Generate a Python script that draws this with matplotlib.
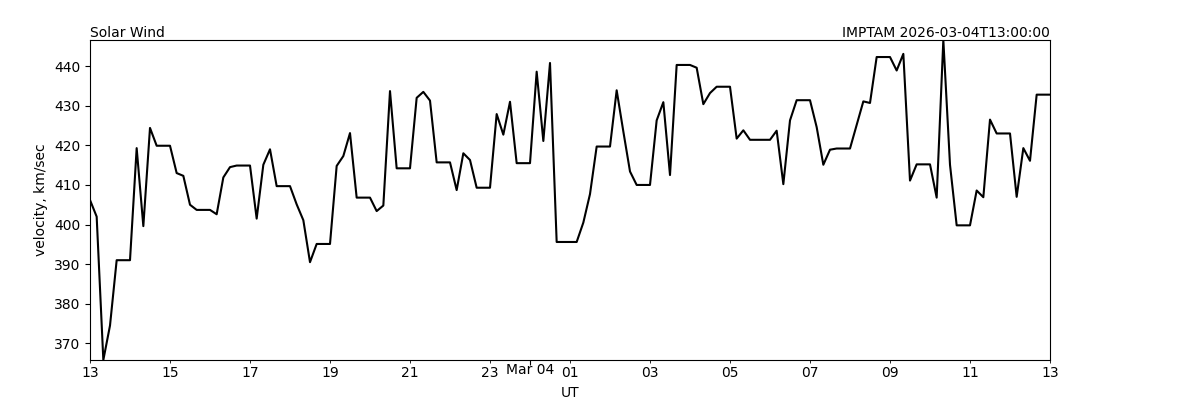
import datetime as dt

import matplotlib
matplotlib.use("Agg")
import matplotlib.dates as mdates
import matplotlib.pyplot as plt
import numpy as np

# Solar wind velocity, 10-minute samples from 2026-03-03 13:00 UT
start = dt.datetime(2026, 3, 3, 13, 0)
step_min = 10
velocity = [
    406.2, 402.0, 365.8, 374.5, 391.0, 391.0, 391.0, 419.3, 399.6, 424.4,
    419.9, 419.9, 419.9, 413.0, 412.3, 405.0, 403.7, 403.7, 403.7, 402.6,
    411.9, 414.5, 414.9, 414.9, 414.9, 401.5, 415.1, 419.0, 409.7, 409.7,
    409.7, 405.1, 401.1, 390.5, 395.1, 395.1, 395.1, 414.8, 417.3, 423.1,
    406.8, 406.8, 406.8, 403.4, 404.8, 433.7, 414.2, 414.2, 414.2, 432.0,
    433.5, 431.3, 415.7, 415.7, 415.7, 408.7, 418.0, 416.3, 409.3, 409.3,
    409.3, 427.9, 422.7, 431.0, 415.5, 415.5, 415.5, 438.6, 421.1, 440.8,
    395.6, 395.6, 395.6, 395.6, 400.5, 407.7, 419.7, 419.7, 419.7, 433.9,
    423.5, 413.4, 410.0, 410.0, 410.0, 426.3, 430.9, 412.5, 440.3, 440.3,
    440.3, 439.6, 430.4, 433.2, 434.8, 434.8, 434.8, 421.7, 423.8, 421.4,
    421.4, 421.4, 421.4, 423.7, 410.2, 426.3, 431.4, 431.4, 431.4, 424.6,
    415.1, 418.9, 419.2, 419.2, 419.2, 425.2, 431.1, 430.7, 442.3, 442.3,
    442.3, 438.9, 443.1, 411.1, 415.2, 415.2, 415.2, 406.8, 446.6, 415.1,
    399.8, 399.8, 399.8, 408.6, 406.9, 426.5, 423.0, 423.0, 423.0, 407.0,
    419.3, 416.1, 432.8, 432.8, 432.8,
]
times = [start + dt.timedelta(minutes=step_min * i) for i in range(len(velocity))]

fig = plt.figure(figsize=(12, 4), dpi=100)
fig.subplots_adjust(left=0.075, right=0.875, bottom=0.1, top=0.9)
ax = fig.add_subplot(111)

ax.plot(times, velocity, color="black", linewidth=1.5)
ax.margins(0)

# day label on the midnight tick, hour labels on odd hours
ax.xaxis.set_major_locator(mdates.DayLocator())
ax.xaxis.set_major_formatter(mdates.DateFormatter("%b %d"))
ax.xaxis.set_minor_locator(mdates.HourLocator(byhour=range(1, 24, 2)))
ax.xaxis.set_minor_formatter(mdates.DateFormatter("%H"))
ax.tick_params(axis="x", which="major", length=3.5, pad=-1.5)
ax.tick_params(axis="x", which="minor", length=2.5, pad=2.0, labelsize=10)

ax.set_title("Solar Wind", loc="left", fontsize=10, pad=2)
ax.set_title("IMPTAM 2026-03-04T13:00:00", loc="right", fontsize=10, pad=2)
ax.set_xlabel("UT")
ax.set_ylabel("velocity, km/sec")

fig.savefig("out.png", dpi=100)
